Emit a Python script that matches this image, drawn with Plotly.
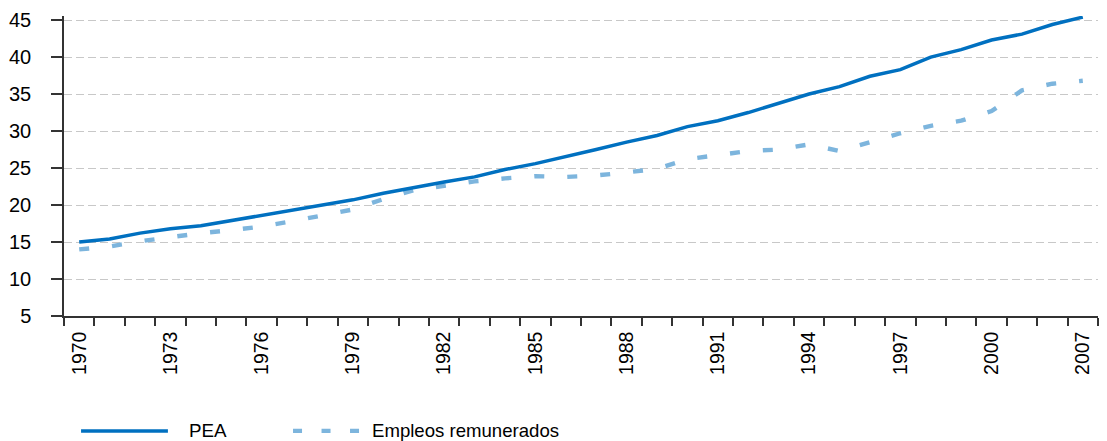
import plotly.graph_objects as go

# ---- data ----
years = ["1970", "1971", "1972", "1973", "1974", "1975", "1976", "1977", "1978", "1979",
         "1980", "1981", "1982", "1983", "1984", "1985", "1986", "1987", "1988", "1989",
         "1990", "1991", "1992", "1993", "1994", "1995", "1996", "1997", "1998", "1999",
         "2000", "2003", "2005", "2007"]
pea = [15.0, 15.4, 16.2, 16.8, 17.2, 17.9, 18.6, 19.3, 20.0, 20.7,
       21.6, 22.4, 23.1, 23.8, 24.8, 25.6, 26.5, 27.5, 28.5, 29.4,
       30.6, 31.4, 32.5, 33.8, 35.0, 36.0, 37.4, 38.3, 40.0, 41.0,
       42.3, 43.1, 44.4, 45.4]
empleos = [14.0, 14.4, 15.1, 15.7, 16.2, 16.6, 17.1, 17.8, 18.6, 19.4,
           20.8, 22.0, 22.6, 23.2, 23.6, 23.9, 23.8, 24.0, 24.4, 24.9,
           26.2, 26.8, 27.3, 27.5, 28.2, 27.3, 28.5, 29.7, 30.7, 31.4,
           32.7, 35.5, 36.4, 36.8]
label_every = 3
y_ticks = [5, 10, 15, 20, 25, 30, 35, 40, 45]

series_names = ["PEA", "Empleos remunerados"]
c_pea = "#0070C0"
c_emp = "#7DB5DD"

idx = list(range(len(years)))
tick_idx = [i for i in idx if i % label_every == 0]

fig = go.Figure()
fig.add_trace(go.Scatter(x=idx, y=empleos, mode="lines", name=series_names[1],
                         line=dict(color=c_emp, width=4.4, dash="10px,23px"),
                         showlegend=False))
fig.add_trace(go.Scatter(x=idx, y=pea, mode="lines", name=series_names[0],
                         line=dict(color=c_pea, width=3.5),
                         showlegend=False))

font_fam = "Arial, Liberation Sans, sans-serif"

fig.update_layout(
    width=1107, height=441,
    margin=dict(l=62, r=9, t=16, b=125),
    plot_bgcolor="white", paper_bgcolor="white",
    font=dict(family=font_fam, color="#000000"),
    xaxis=dict(
        range=[-0.5, len(years) - 0.5],
        tickmode="array", tickvals=tick_idx, ticktext=[years[i] for i in tick_idx],
        tickangle=-90, ticks="", showgrid=False, zeroline=False,
        showline=True, linecolor="#333333", linewidth=1.5,
        tickfont=dict(size=19.5, family=font_fam, color="#000000"),
        ticklabelstandoff=6,
        minor=dict(tickmode="linear", tick0=-0.5, dtick=1, ticks="outside",
                   ticklen=8, tickwidth=1.5, tickcolor="#333333", showgrid=False),
    ),
    yaxis=dict(
        range=[5, 45.55], tickmode="array", tickvals=y_ticks,
        ticks="outside", ticklen=11, tickwidth=1.5, tickcolor="#333333",
        showline=True, linecolor="#333333", linewidth=1.5,
        showgrid=True, gridcolor="#C8C8C8", gridwidth=1, griddash="8px,4px",
        zeroline=False,
        tickfont=dict(size=20, family=font_fam, color="#000000"),
        ticklabelstandoff=16,
    ),
)

# custom legend (long line samples as in the original)
leg_y = -0.383
fig.add_shape(type="line", xref="paper", yref="paper", x0=0.0165, x1=0.1005,
              y0=leg_y, y1=leg_y, line=dict(color=c_pea, width=3.5))
fig.add_annotation(xref="paper", yref="paper", x=0.1185, y=leg_y, text=series_names[0],
                   showarrow=False, xanchor="left", yanchor="middle",
                   font=dict(size=18.8, family=font_fam, color="#000000"))
fig.add_shape(type="line", xref="paper", yref="paper", x0=0.2215, x1=0.2855,
              y0=leg_y, y1=leg_y, line=dict(color=c_emp, width=4.4, dash="9px,19.5px"))
fig.add_annotation(xref="paper", yref="paper", x=0.2955, y=leg_y, text=series_names[1],
                   showarrow=False, xanchor="left", yanchor="middle",
                   font=dict(size=18.6, family=font_fam, color="#000000"))

fig.write_html(
    "out.html",
    config={"displayModeBar": False},
    post_script="document.body.style.margin='0';document.body.style.overflow='hidden';",
)
